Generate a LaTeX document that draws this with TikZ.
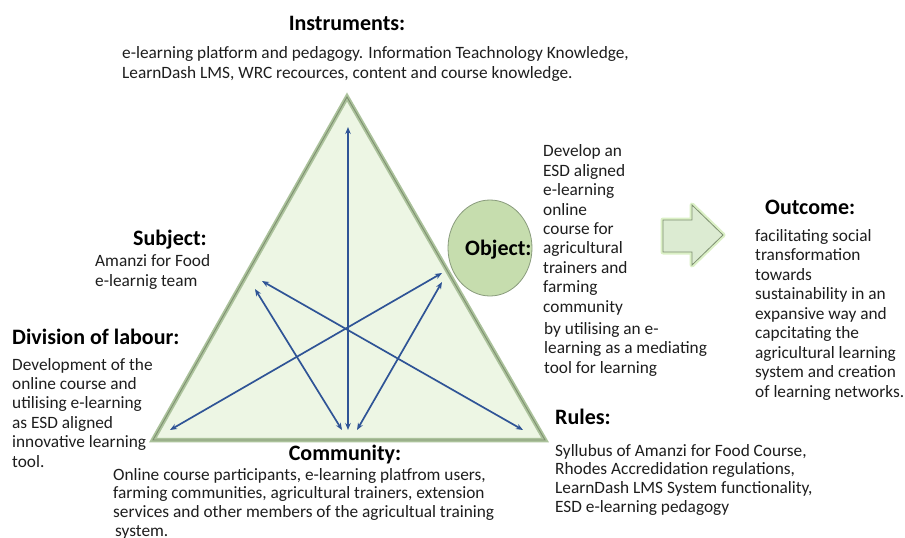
\documentclass[tikz,border=0pt]{standalone}
\usepackage[dvipsnames,svgnames]{xcolor}
\usepackage{fontspec}
\setmainfont{Carlito}
\usetikzlibrary{arrows.meta}

\definecolor{sage}{HTML}{ABC29B}
\definecolor{sagedark}{HTML}{7E9070}
\definecolor{trifill}{HTML}{EDF6E4}
\definecolor{objfill}{HTML}{C6DDAE}
\definecolor{arrowfill}{HTML}{DCEBD2}
\definecolor{glow}{HTML}{B9E38F}
\definecolor{relblue}{HTML}{2F5496}
\definecolor{ink}{HTML}{1E1E1E}

\tikzset{
  head/.style={font=\fontsize{22}{25}\selectfont\bfseries, inner sep=0pt},
  body/.style={font=\fontsize{17.3}{19.4}\selectfont, text=ink, align=left,
    anchor=base west, inner sep=0pt},
  bodytight/.style={body, font=\fontsize{17.3}{18.6}\selectfont},
  rel/.style={relblue, line width=1.7pt,
    {Stealth[length=7pt,width=5.5pt]}-{Stealth[length=7pt,width=5.5pt]}}
}

\begin{document}
\begin{tikzpicture}[x=1pt,y=-1pt]
  \useasboundingbox[fill=white] (0,0) rectangle (905,538);

  \coordinate (apex) at (347,97);
  \coordinate (left) at (153,440);
  \coordinate (right) at (545,440);
  \filldraw[fill=trifill, draw=sage, line width=4.5pt, line join=miter]
    (apex) -- (left) -- (right) -- cycle;
  \draw[sagedark, line width=0.9pt, scale around={0.985:(348.3,325.7)}]
    (apex) -- (left) -- (right) -- cycle;

  \coordinate (top) at (348,127);
  \coordinate (base) at (348,430);
  \coordinate (baseL) at (342,430);
  \coordinate (baseR) at (357,430);
  \coordinate (cornerL) at (170,430);
  \coordinate (cornerR) at (523,430);
  \coordinate (subjA) at (262,281);
  \coordinate (subjB) at (255,289);
  \coordinate (objA) at (442,273);
  \coordinate (objB) at (442,282);
  \draw[rel] (top) -- (base);
  \draw[rel] (subjA) -- (cornerR);
  \draw[rel] (subjB) -- (baseL);
  \draw[rel] (objA) -- (cornerL);
  \draw[rel] (objB) -- (baseR);

  \draw[fill=objfill, draw=sage!80!black, line width=0.8pt]
    (490,248) ellipse [x radius=42, y radius=48];
  \node[head, anchor=base west] (object) at (465,255) {Object:};

  \draw[glow, line width=5pt, opacity=0.5, line join=round]
    (663,220) -- (692,220) -- (692,205) -- (723,235) -- (692,265) -- (692,252) -- (663,252) -- cycle;
  \filldraw[fill=arrowfill, draw=sagedark, line width=0.8pt]
    (663,220) -- (692,220) -- (692,205) -- (723,235) -- (692,265) -- (692,252) -- (663,252) -- cycle;

  \node[head, anchor=base] (instruments) at (347,30) {Instruments:};
  \node[body] (instrumentstxt) at (122,78)
    {e-learning platform and pedagogy. Information Teachnology Knowledge,\\
     LearnDash LMS, WRC recources, content and course knowledge.};

  \node[head, anchor=base] (subject) at (170,245) {Subject:};
  \node[body] (subjecttxt) at (95,286) {Amanzi for Food\\e-learnig team};

  \node[head, anchor=base west] (division) at (12,344) {Division of labour:};
  \node[body] (divisiontxt) at (12,467)
    {Development of the\\online course and\\utilising e-learning\\as ESD aligned\\
     innovative learning\\tool.};

  \node[body] (objecttxt) at (543,312)
    {Develop an\\ESD aligned\\e-learning\\online\\course for\\agricultural\\
     trainers and\\farming\\community};
  \node[body] (objecttxtb) at (544,373)
    {by utilising an e-\\learning as a mediating\\tool for learning};

  \node[head, anchor=base west] (outcome) at (765,214) {Outcome:};
  \node[body, font=\fontsize{17.3}{19.5}\selectfont] (outcometxt) at (755,397)
    {facilitating social\\transformation\\towards\\sustainability in an\\
     expansive way and\\capcitating the\\agricultural learning\\
     system and creation\\of learning networks.};

  \node[head, anchor=base west] (rules) at (555,424) {Rules:};
  \node[bodytight] (rulestxt) at (555,512)
    {Syllubus of Amanzi for Food Course,\\Rhodes Accredidation regulations,\\
     LearnDash LMS System functionality,\\ESD e-learning pedagogy};

  \node[head, anchor=base] (community) at (345,460) {Community:};
  \node[bodytight] (communitytxt) at (113,536)
    {Online course participants, e-learning platfrom users,\\
     farming communities, agricultural trainers, extension\\
     services and other members of the agricultual training\\
     \hspace{2pt}system.};
\end{tikzpicture}
\end{document}
